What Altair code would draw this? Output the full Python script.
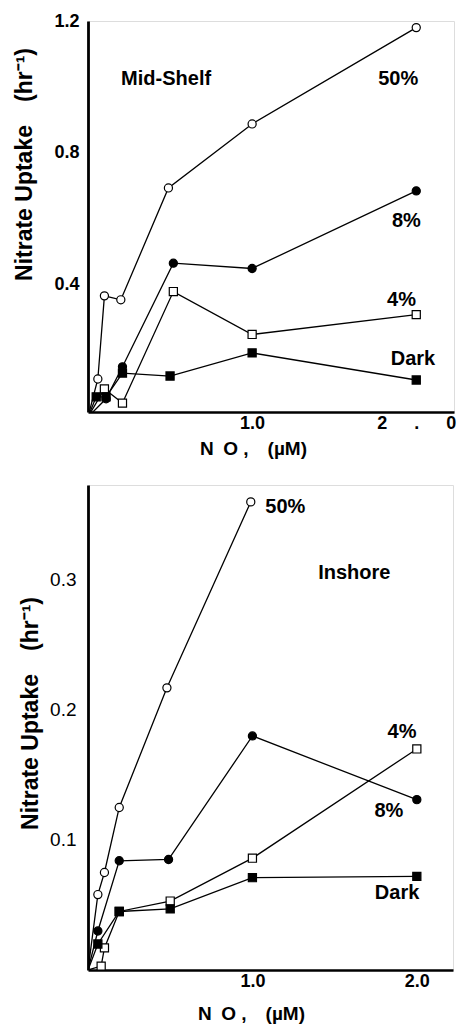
import altair as alt
import pandas as pd

FONT = "Liberation Sans"
SP = "\u2002"

# ---------------- data ----------------
series_names = ["50%", "8%", "4%", "Dark"]

# Mid-Shelf panel
mid_50_x = [0, 0.06, 0.10, 0.20, 0.49, 1.0, 2.0]
mid_50_y = [0, 0.115, 0.367, 0.355, 0.694, 0.888, 1.18]
mid_8_x = [0, 0.11, 0.21, 0.52, 1.0, 2.0]
mid_8_y = [0, 0.055, 0.152, 0.466, 0.45, 0.685]
mid_4_x = [0, 0.10, 0.21, 0.52, 1.0, 2.0]
mid_4_y = [0, 0.085, 0.042, 0.38, 0.25, 0.31]
mid_d_x = [0, 0.05, 0.11, 0.21, 0.50, 1.0, 2.0]
mid_d_y = [0, 0.061, 0.061, 0.133, 0.124, 0.194, 0.112]

# Inshore panel
ins_50_x = [0, 0.06, 0.10, 0.19, 0.48, 0.99]
ins_50_y = [0, 0.058, 0.075, 0.125, 0.217, 0.36]
ins_8_x = [0, 0.06, 0.19, 0.49, 1.0, 2.0]
ins_8_y = [0, 0.030, 0.084, 0.085, 0.18, 0.131]
ins_4_x = [0, 0.08, 0.10, 0.19, 0.50, 1.0, 2.0]
ins_4_y = [0, 0.003, 0.017, 0.045, 0.053, 0.086, 0.17]
ins_d_x = [0, 0.06, 0.19, 0.50, 1.0, 2.0]
ins_d_y = [0, 0.020, 0.045, 0.047, 0.071, 0.072]

# annotation labels
mid_lab_text = ["Mid-Shelf", "50%", "8%", "4%", "Dark"]
mid_lab_x = [0.476, 1.89, 1.94, 1.91, 1.98]
mid_lab_y = [1.024, 1.024, 0.594, 0.355, 0.176]

ins_lab_text = ["50%", "Inshore", "4%", "8%", "Dark"]
ins_lab_x = [1.20, 1.62, 1.91, 1.83, 1.88]
ins_lab_y = [0.356, 0.305, 0.183, 0.122, 0.059]


def build(xs_list, ys_list):
    rows = []
    for name, xs, ys in zip(series_names, xs_list, ys_list):
        for i, (x, y) in enumerate(zip(xs, ys)):
            rows.append({"series": name, "x": x, "y": y, "idx": i, "origin": x == 0 and y == 0})
    return pd.DataFrame(rows)


mid_df = build([mid_50_x, mid_8_x, mid_4_x, mid_d_x], [mid_50_y, mid_8_y, mid_4_y, mid_d_y])
ins_df = build([ins_50_x, ins_8_x, ins_4_x, ins_d_x], [ins_50_y, ins_8_y, ins_4_y, ins_d_y])
mid_lab = pd.DataFrame({"t": mid_lab_text, "x": mid_lab_x, "y": mid_lab_y})
ins_lab = pd.DataFrame({"t": ins_lab_text, "x": ins_lab_x, "y": ins_lab_y})

X_TITLE = "N" + SP + "O ," + SP + SP + "(µM)"
Y_TITLE = "Nitrate Uptake" + SP + SP + "(hr⁻¹)"
TWO_SPACED = "2" + SP * 3 + "." + SP * 3 + "0"


def panel(df, lab, xdom, ydom, w, h, yvals, ylabel_weight, ylabel_size, two_label,
          ytitle_x, ytitle_y, xtitle_x, xtitle_y, ylabpad):
    xaxis = alt.Axis(values=[1.0, 2.0],
                     labelExpr="datum.value == 2 ? '" + two_label + "' : '1.0'",
                     grid=False, ticks=False,
                     domainColor="black", domainWidth=2.5, labelFont=FONT, labelFontSize=18,
                     labelFontWeight="bold", labelColor="black", labelPadding=2,
                     title=X_TITLE, titleFont=FONT, titleFontSize=19, titleFontWeight="bold",
                     titleColor="black", titleX=xtitle_x, titleY=xtitle_y, titleBaseline="middle",
                     titleAlign="center")
    yaxis = alt.Axis(values=yvals, format=".1f", grid=False, ticks=False, domainColor="black",
                     domainWidth=2.8, labelFont=FONT, labelFontSize=ylabel_size,
                     labelFontWeight=ylabel_weight, labelColor="black", labelPadding=ylabpad,
                     title=Y_TITLE, titleFont=FONT, titleFontSize=23,
                     titleFontWeight="bold", titleColor="black", titleX=ytitle_x, titleY=ytitle_y,
                     titleAngle=270, titleBaseline="middle", titleAlign="center")
    xs = alt.Scale(domain=xdom, nice=False, zero=False)
    ys = alt.Scale(domain=ydom, nice=False, zero=False)
    base = alt.Chart(df)
    lines = base.mark_line(color="black", strokeWidth=1.3, clip=True).encode(
        x=alt.X("x:Q", scale=xs, axis=xaxis),
        y=alt.Y("y:Q", scale=ys, axis=yaxis),
        detail="series:N",
        order="idx:Q",
    )
    pts = base.transform_filter("!datum.origin").mark_point(
        filled=True, stroke="black", strokeWidth=1.2, size=66, opacity=1, clip=True
    ).encode(
        x=alt.X("x:Q", scale=xs),
        y=alt.Y("y:Q", scale=ys),
        shape=alt.Shape("series:N", scale=alt.Scale(domain=series_names,
                        range=["circle", "circle", "square", "square"]), legend=None),
        fill=alt.Fill("series:N", scale=alt.Scale(domain=series_names,
                      range=["white", "black", "white", "black"]), legend=None),
    )
    text = alt.Chart(lab).mark_text(font=FONT, fontSize=20, fontWeight="bold", color="black",
                                    align="center", baseline="middle").encode(
        x=alt.X("x:Q", scale=xs), y=alt.Y("y:Q", scale=ys), text="t:N")
    return alt.layer(lines, pts, text).properties(width=w, height=h)


top = panel(mid_df, mid_lab, [0, 2.23], [0.015, 1.2], 366, 391, [0.4, 0.8, 1.2], "bold", 18,
            TWO_SPACED, -64, 143, 165, 36, 9)
bottom = panel(ins_df, ins_lab, [0, 2.22], [0, 0.373], 365, 485, [0.1, 0.2, 0.3], "normal", 19,
               "2.0", -58, 228, 163, 43, 12)

chart = alt.vconcat(top, bottom, spacing=73, bounds="flush").properties(
    padding={"left": 4, "top": 3, "right": 5, "bottom": 5}
).configure_view(stroke=None).configure(background="white")

chart.save("out.html", embed_options={"renderer": "svg", "actions": False})
